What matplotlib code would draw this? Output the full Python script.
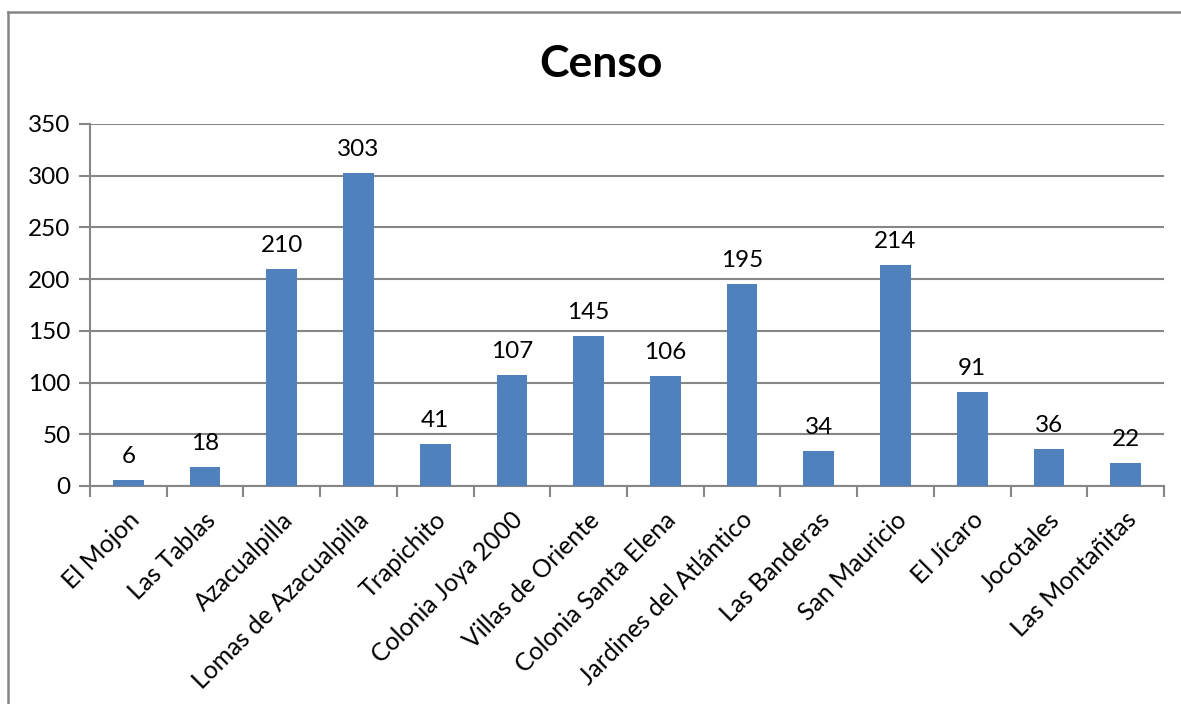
import matplotlib
matplotlib.use("Agg")
import matplotlib.pyplot as plt
from matplotlib.lines import Line2D

# datos del censo por comunidad
comunidades = ["El Mojon", "Las Tablas", "Azacualpilla", "Lomas de Azacualpilla",
               "Trapichito", "Colonia Joya 2000", "Villas de Oriente",
               "Colonia Santa Elena", "Jardines del Atlántico", "Las Banderas",
               "San Mauricio", "El Jícaro", "Jocotales", "Las Montañitas"]
censo = [6, 18, 210, 303, 41, 107, 145, 106, 195, 34, 214, 91, 36, 22]
yticks = [0, 50, 100, 150, 200, 250, 300, 350]

plt.rcParams["font.family"] = ["Lato", "DejaVu Sans"]
GRIS = "#868686"
AZUL = "#4F81BD"

fig = plt.figure(figsize=(11.81, 7.04), dpi=100)
ax = fig.add_axes([90 / 1181, 1 - 486 / 704, (1164 - 90) / 1181, (486 - 124) / 704])

# marco exterior del grafico (solo se ven lado izquierdo y superior)
x0, y0 = 8 / 1181, 1 - 12 / 704
fig.lines.append(Line2D([x0, x0], [-0.01, y0], transform=fig.transFigure, color=GRIS, lw=1.8))
fig.lines.append(Line2D([x0, 1.01], [y0, y0], transform=fig.transFigure, color=GRIS, lw=1.8))

x = list(range(len(censo)))
ax.bar(x, censo, width=0.4, color=AZUL, zorder=3)
for xi, v in zip(x, censo):
    ax.annotate(str(v), (xi, v), xytext=(0, 13), textcoords="offset pixels",
                ha="center", va="bottom", fontsize=17.5)

ax.set_xlim(-0.5, len(censo) - 0.5)
ax.set_ylim(0, 350)
ax.set_yticks(yticks)
ax.tick_params(axis="y", labelsize=17.5, length=8, width=1.5, color=GRIS, pad=6)
ax.yaxis.grid(True, color=GRIS, linewidth=1.5, zorder=0)

ax.set_xticks([i - 0.5 for i in range(len(censo) + 1)])
ax.set_xticklabels([])
ax.tick_params(axis="x", length=8, width=1.5, color=GRIS)
for xi, nombre in zip(x, comunidades):
    ax.annotate(nombre, (xi, 0), xytext=(-1, -22), textcoords="offset pixels",
                rotation=45, rotation_mode="anchor", ha="right", va="top",
                fontsize=17.8)

for s in ["top", "right"]:
    ax.spines[s].set_visible(False)
for s in ["left", "bottom"]:
    ax.spines[s].set_color(GRIS)
    ax.spines[s].set_linewidth(1.5)

fig.text(601 / 1181, 1 - 64 / 704, "Censo", ha="center", va="center",
         fontsize=32, fontweight="bold")

fig.savefig("out.png", dpi=100)
